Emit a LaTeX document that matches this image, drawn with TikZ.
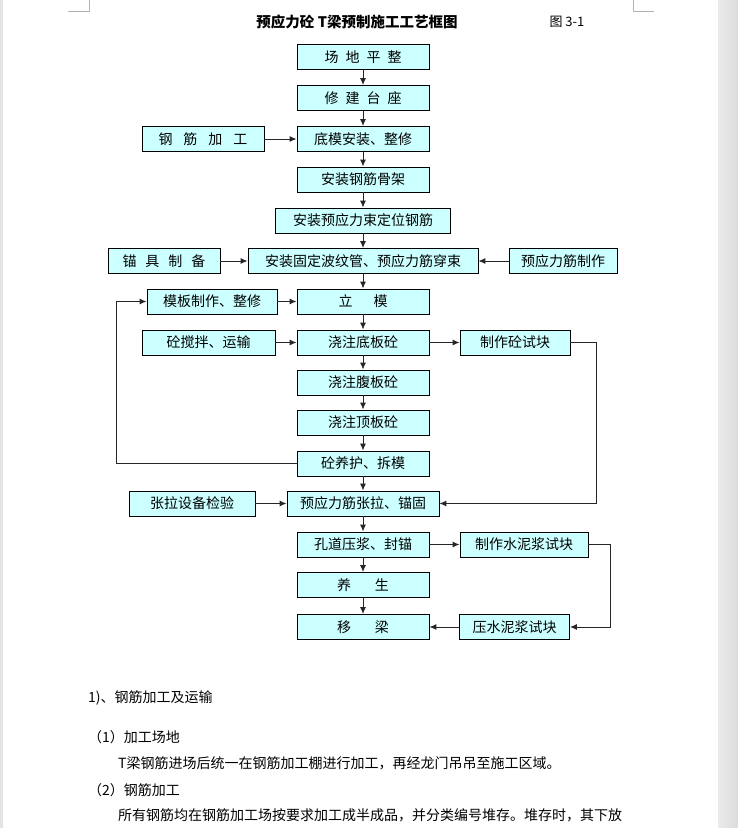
\documentclass[tikz,border=0pt]{standalone}
\usepackage{fontspec}
\setmainfont{Noto Sans CJK SC}
\usetikzlibrary{arrows.meta}
\definecolor{boxfill}{HTML}{CCFFFF}
\definecolor{pagegray}{HTML}{E4E4E4}
\newcommand{\kgap}[1]{\hspace{#1pt}}

\begin{document}
\begin{tikzpicture}[x=1pt,y=-1pt,>={Latex[length=7pt,width=6pt]},
  stepbox/.style={draw=black,line width=0.9pt,fill=boxfill,minimum height=25pt,
    inner sep=0pt,font=\fontsize{14pt}{16pt}\selectfont},
  flow/.style={->,line width=1pt,draw=black!85},
  para/.style={anchor=west,inner sep=0pt,font=\fontsize{14pt}{16pt}\selectfont}]
\useasboundingbox (0,0) rectangle (738,828);
\fill[white] (0,0) rectangle (738,828);
\fill[pagegray] (0,0) rectangle (3,828);
\shade[left color=black!8,right color=black!14] (718,0) rectangle (738,828);
\draw[black!30,line width=0.8pt] (89,0) -- (89,11) -- (68,11);
\draw[black!30,line width=0.8pt] (633,0) -- (633,11) -- (654,11);

\node[font=\bfseries\fontsize{14.5pt}{16pt}\selectfont] (title) at (357,22) {预应力砼 T梁预制施工工艺框图};
\node[font=\fontsize{13pt}{16pt}\selectfont] (fignum) at (567,22) {图 3-1};

\node[stepbox,minimum width=132pt] (t1) at (363,57) {场\kgap{7}地\kgap{7}平\kgap{7}整};
\node[stepbox,minimum width=132pt] (t2) at (363,98) {修\kgap{7}建\kgap{7}台\kgap{7}座};
\node[stepbox,minimum width=132pt] (t3) at (363,139) {底模安装、整修};
\node[stepbox,minimum width=132pt] (t4) at (363,179.5) {安装钢筋骨架};
\node[stepbox,minimum width=175pt] (t5) at (363,220.5) {安装预应力束定位钢筋};
\node[stepbox,minimum width=230pt] (t6) at (363,261) {安装固定波纹管、预应力筋穿束};
\node[stepbox,minimum width=132pt] (t7) at (363,301.5) {立\kgap{21}模};
\node[stepbox,minimum width=132pt] (t8) at (363,342.5) {浇注底板砼};
\node[stepbox,minimum width=132pt] (t9) at (363,382.5) {浇注腹板砼};
\node[stepbox,minimum width=132pt] (t10) at (363,422.5) {浇注顶板砼};
\node[stepbox,minimum width=132pt] (t11) at (363,463.5) {砼养护、拆模};
\node[stepbox,minimum width=152pt] (t12) at (363,503.5) {预应力筋张拉、锚固};
\node[stepbox,minimum width=132pt] (t13) at (363,544.5) {孔道压浆、封锚};
\node[stepbox,minimum width=132pt] (t14) at (363,585) {养\kgap{24}生};
\node[stepbox,minimum width=132pt] (t15) at (363,627) {移\kgap{24}梁};

\node[stepbox,minimum width=122pt] (l1) at (203,139) {钢\kgap{11}筋\kgap{11}加\kgap{11}工};
\node[stepbox,minimum width=112pt] (l2) at (164,261) {锚\kgap{9}具\kgap{9}制\kgap{9}备};
\node[stepbox,minimum width=130pt] (l3) at (212,301.5) {模板制作、整修};
\node[stepbox,minimum width=133pt] (l4) at (208.5,342.5) {砼搅拌、运输};
\node[stepbox,minimum width=126pt] (l5) at (192,503.5) {张拉设备检验};

\node[stepbox,minimum width=108pt] (r1) at (563,261) {预应力筋制作};
\node[stepbox,minimum width=110pt] (r2) at (515,342.5) {制作砼试块};
\node[stepbox,minimum width=128pt] (r3) at (524,544.5) {制作水泥浆试块};
\node[stepbox,minimum width=110pt] (r4) at (514.5,627) {压水泥浆试块};

\foreach \a/\b in {t1/t2,t2/t3,t3/t4,t4/t5,t5/t6,t6/t7,t7/t8,t8/t9,t9/t10,t10/t11,t11/t12,t12/t13,t13/t14,t14/t15}
  \draw[flow] (\a) -- (\b);
\foreach \a/\b in {l1/t3,l2/t6,r1/t6,l3/t7,l4/t8,t8/r2,l5/t12,t13/r3,r4/t15}
  \draw[flow] (\a) -- (\b);

\coordinate (lbend) at (116,463.5);
\coordinate (rbend1) at (596,342.5);
\coordinate (rbend2) at (610,544.5);
\draw[flow] (t11.west) -- (lbend) |- (l3.west);
\draw[flow] (r2.east) -- (rbend1) |- (t12.east);
\draw[flow] (r3.east) -- (rbend2) |- (r4.east);

\node[para] (h1) at (88,698) {1)、钢筋加工及运输};
\node[para] (h2) at (88,737) {（1）加工场地};
\node[para] (p1) at (118,763) {T梁钢筋进场后统一在钢筋加工棚进行加工，再经龙门吊吊至施工区域。};
\node[para] (h3) at (88,790) {（2）钢筋加工};
\node[para] (p2) at (118,815) {所有钢筋均在钢筋加工场按要求加工成半成品，并分类编号堆存。堆存时，其下放};
\end{tikzpicture}
\end{document}
